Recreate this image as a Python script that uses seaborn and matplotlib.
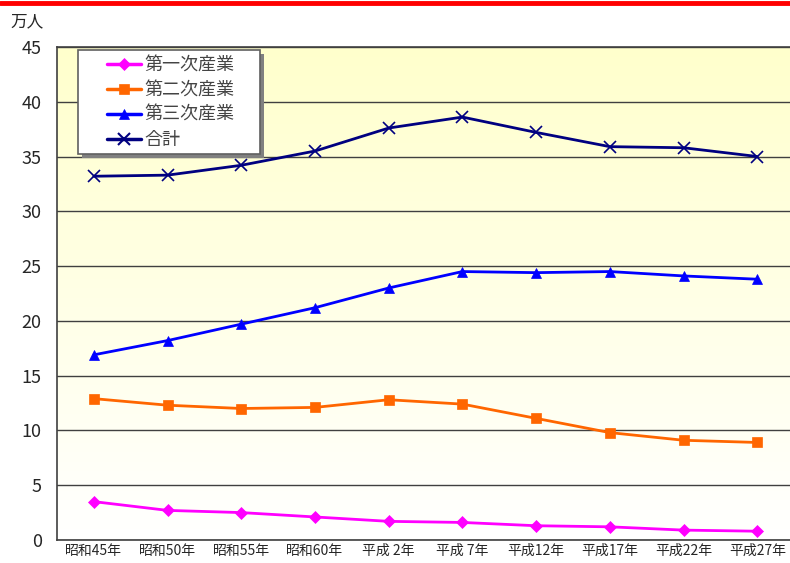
import numpy as np
import pandas as pd
import seaborn as sns
import matplotlib.pyplot as plt
from matplotlib.lines import Line2D
from matplotlib.patches import Rectangle

sns.set_style("white")
plt.rcParams['font.family'] = ['Noto Sans CJK JP', 'DejaVu Sans']

# データ（万人）
years = ['昭和45年', '昭和50年', '昭和55年', '昭和60年', '平成 2年',
         '平成 7年', '平成12年', '平成17年', '平成22年', '平成27年']
primary = [3.5, 2.7, 2.5, 2.1, 1.7, 1.6, 1.3, 1.2, 0.9, 0.8]
secondary = [12.9, 12.3, 12.0, 12.1, 12.8, 12.4, 11.1, 9.8, 9.1, 8.9]
tertiary = [16.9, 18.2, 19.7, 21.2, 23.0, 24.5, 24.4, 24.5, 24.1, 23.8]
total = [33.2, 33.3, 34.2, 35.5, 37.6, 38.6, 37.2, 35.9, 35.8, 35.0]

series = [
    ('第一次産業', primary, '#FF00FF', 'D', 6),
    ('第二次産業', secondary, '#FF6600', 's', 7),
    ('第三次産業', tertiary, '#0000FF', '^', 7),
    ('合計', total, '#000080', 'x', 8),
]

fig = plt.figure(figsize=(7.9, 5.63), dpi=100)
ax = fig.add_axes([0.0722, 0.0409, 0.933, 0.8757])

# 背景グラデーション（上：薄黄 → 下：白）
grad = np.linspace(0, 1, 256).reshape(-1, 1)
top = np.array([1.0, 1.0, 0.80])
bottom = np.array([1.0, 1.0, 1.0])
img = top * (1 - grad[..., None]) + bottom * grad[..., None]
img = img.reshape(256, 1, 3)
ax.imshow(img, extent=[0, 1, 0, 1], transform=ax.transAxes, aspect='auto', zorder=0)

x = np.arange(len(years))
for name, vals, color, marker, ms in series:
    df = pd.DataFrame({'x': x, 'y': vals})
    sns.lineplot(data=df, x='x', y='y', ax=ax, color=color, marker=marker,
                 markersize=ms, linewidth=2, markeredgecolor=color,
                 markeredgewidth=1.2 if marker == 'x' else 0.5, zorder=3)

ax.set_xlim(-0.5, len(years) - 0.5)
ax.set_ylim(0, 45)
ax.set_yticks(range(0, 46, 5))
ax.grid(axis='y', color='#404040', linewidth=1)
ax.set_axisbelow(True)
for g in ax.get_ygridlines():
    g.set_zorder(1)
ax.set_xticks(x)
ax.set_xticklabels(years, fontsize=10)
ax.set_xticks(np.arange(-0.5, len(years), 1), minor=True)
ax.tick_params(axis='x', which='major', length=0, pad=3)
ax.tick_params(axis='x', which='minor', length=5, color='#404040', direction='out')
ax.tick_params(axis='y', length=5, color='#404040', direction='out', labelsize=13, pad=6)
ax.set_xlabel('')
ax.set_ylabel('')
for s in ax.spines.values():
    s.set_color('#404040')
    s.set_linewidth(1.2)

fig.text(0.013, 0.962, '万人', fontsize=12, va='center')

# 上部の赤線
fig.add_artist(Line2D([0, 1], [0.995, 0.995], transform=fig.transFigure,
                      color='#FF0000', linewidth=3.5))

# 凡例の枠と影
fig.add_artist(Rectangle((0.1037, 0.7194), 0.2304, 0.1847, transform=fig.transFigure,
                         facecolor='#808080', edgecolor='none', zorder=5))
fig.add_artist(Rectangle((0.0987, 0.7265), 0.2304, 0.1847, transform=fig.transFigure,
                         facecolor='white', edgecolor='#606060', linewidth=1.2, zorder=5.5))

handles = [Line2D([0], [0], color=c, marker=m, markersize=ms, linewidth=2.5,
                  markeredgecolor=c, markeredgewidth=1.5 if m == 'x' else 0.5)
           for _, _, c, m, ms in series]
labels = [s[0] for s in series]
leg = fig.legend(handles, labels, loc='upper left',
                 bbox_to_anchor=(0.1354, 0.900), frameon=False,
                 fontsize=13, handlelength=1.9, borderpad=0.0, labelspacing=0.38,
                 handletextpad=0.15, borderaxespad=0)
leg.set_zorder(6)
for t in leg.get_texts():
    t.set_color('#444444')

fig.savefig('out.png', dpi=100)
